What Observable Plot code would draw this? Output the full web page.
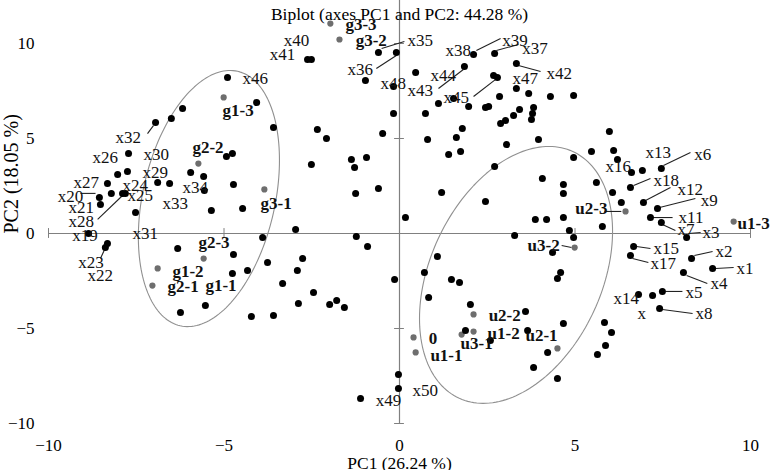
<!DOCTYPE html>
<html><head><meta charset="utf-8">
<script src="https://cdn.jsdelivr.net/npm/d3@7"></script>
<script src="https://cdn.jsdelivr.net/npm/@observablehq/plot@0.6"></script>
<style>html,body{margin:0;padding:0;background:#fff;} svg{display:block}</style>
</head><body><div id="chart"></div>
<script>
const title = "Biplot (axes PC1 and PC2: 44.28 %)";
const xLabel = "PC1 (26.24 %)";
const yLabel = "PC2 (18.05 %)";
const tickValues = [-10, -5, 0, 5, 10];

// black points (variables / observations) as [PC1, PC2]
const blackPoints = [
[-0.97,8.05],[0.46,8.47],[1.85,8.79],[2.68,8.32],[2.79,8.21],[3.33,7.63],[3.68,7.37],[2.85,7.21],[4.30,7.21],[4.96,7.26],
[1.54,7.11],[1.11,6.84],[1.97,6.68],[2.45,6.63],[2.54,6.68],[-0.17,6.32],[0.74,6.32],[3.82,6.63],[3.79,6.32],[3.76,6.00],
[3.42,6.53],[3.25,6.21],[3.02,5.95],[2.88,5.79],[1.79,5.53],[1.62,5.05],[0.80,4.95],[-0.48,5.26],[3.96,4.95],[3.05,4.68],
[1.40,4.16],[1.74,4.32],[5.98,5.37],[5.47,4.32],[6.10,4.37],[4.96,4.00],[6.21,3.89],[6.61,3.21],[6.92,3.32],
[4.07,2.89],[4.67,2.58],[4.67,2.11],[5.61,2.68],[6.07,2.16],[6.32,1.63],[3.87,0.74],[4.19,0.74],[4.67,0.84],[5.78,0.37],
[4.84,0.16],[4.96,-0.21],[4.36,-1.00],[4.59,-2.05],[4.50,-2.37],[2.71,3.53],[1.20,2.16],[2.45,1.68],[0.17,0.84],[3.28,-0.11],
[1.08,-1.21],[0.71,-2.05],[1.48,-2.42],[1.71,-2.58],[0.83,-3.37],[2.02,-3.74],[3.59,-4.11],[4.67,-4.74],[5.84,-4.68],[6.04,-5.21],
[5.87,-5.89],[5.64,-6.37],[4.22,-6.26],[3.82,-7.05],[4.50,-7.63],[1.88,-5.11],[2.59,-5.63],[3.65,-5.11],[-0.14,-2.42],
[-1.23,-0.16],[-0.91,-0.68],[-2.51,3.63],[-1.37,3.89],[-1.28,3.47],[-0.94,4.00],[-1.25,2.11],[-0.60,2.37],[-2.34,5.47],[-2.08,5.00],
[-3.59,5.58],[-4.07,6.89],[-6.18,6.58],[-6.50,6.05],[-4.93,4.05],[-4.76,4.21],[-8.03,3.11],[-7.75,3.26],[-5.95,3.21],[-5.58,3.00],
[-6.55,2.63],[-5.56,2.26],[-4.73,2.58],[-8.21,2.11],[-5.36,1.21],[-4.47,1.32],[-7.52,1.11],[-2.96,0.21],[-3.90,-0.21],[-6.32,-0.79],
[-4.73,-1.11],[-3.76,-1.53],[-2.76,-1.32],[-2.91,-1.95],[-4.33,-1.95],[-4.76,-2.11],[-3.33,-2.63],[-2.45,-3.11],[-2.88,-3.68],[-6.24,-4.16],
[-5.53,-3.79],[-4.22,-4.37],[-3.59,-4.32],[-1.99,-3.74],[-1.79,-3.53],[-1.57,-3.89],[-0.03,-7.42],
[-2.62,9.16],[-2.51,9.16],[-0.60,9.53],[-0.09,9.53],[-0.17,7.74],[2.11,9.42],[2.71,9.47],[3.33,8.95],[-4.90,8.21],[-6.95,5.84],
[-7.72,4.21],[-6.89,2.68],[-8.32,2.63],[-8.55,1.89],[-8.52,1.53],[-7.89,2.11],[-7.81,2.11],[-8.86,0],[-8.32,-0.53],[-8.38,-0.74],
[-1.11,-8.68],[-0.03,-8.16],[7.46,3.42],[6.58,2.42],[6.95,1.63],[7.35,1.32],[7.15,0.84],[7.46,0.58],[8.18,-0.21],[6.67,-0.68],
[6.58,-1.16],[8.32,-1.32],[8.92,-1.84],[8.09,-2.05],[6.81,-3.21],[7.21,-3.26],[7.49,-3.05],[7.41,-3.95]
];

// grey points (treatment groups)
const groupNames = ["g3-3","g3-2","g1-3","g2-2","g3-1","g2-3","g1-2","g2-1","u2-3","u1-3","u3-2","u2-2","0","u1-1","u3-1","u1-2","u2-1"];
const groupX = [-1.97,-1.71,-5.01,-5.73,-3.85,-5.58,-6.89,-7.04,6.44,9.52,4.99,2.11,0.40,0.46,1.77,2.11,4.50];
const groupY = [11.05,10.21,7.16,3.68,2.32,-1.32,-1.84,-2.74,1.16,0.63,-0.74,-4.26,-5.47,-6.26,-5.32,-5.16,-6.05];

// variable labels (left edge position)
const varLabels = ["x40","x41","x35","x36","x48","x38","x39","x37","x42","x44","x43","x45","x47","x46","x32","x26","x30","x29","x27","x24","x34","x20","x25","x33","x21","x28","x19","x31","x23","x22","x49","x50","x13","x6","x16","x18","x12","x9","x11","x7","x3","x15","x17","x2","x1","x4","x14","x5","x","x8"];
const varLabelX = [-3.30,-3.70,0.23,-1.48,-0.54,1.31,2.93,3.50,4.19,0.88,0.23,1.25,3.22,-4.47,-8.09,-8.75,-7.29,-7.32,-9.29,-7.89,-6.18,-9.74,-7.75,-6.75,-9.43,-9.43,-9.32,-7.61,-9.15,-8.89,-0.68,0.37,7.01,8.40,5.87,7.24,7.92,8.58,7.95,7.92,8.63,7.24,7.15,9.00,9.60,8.86,6.10,8.15,6.78,8.43];
const varLabelY = [10.16,9.42,10.16,8.63,7.89,9.63,10.16,9.74,8.42,8.32,7.53,7.16,8.16,8.16,5.05,4.00,4.16,3.21,2.68,2.53,2.42,1.95,2.00,1.58,1.37,0.63,-0.11,0,-1.53,-2.21,-8.79,-8.26,4.26,4.16,3.53,2.79,2.32,1.74,0.84,0.21,0.05,-0.79,-1.58,-0.95,-1.84,-2.63,-3.42,-3.11,-4.21,-4.21];

// group labels (bold)
const groupLabels = ["g3-3","g3-2","g1-3","g2-2","g3-1","g2-3","g1-2","g2-1","g1-1","0","u1-1","u3-1","u1-2","u2-2","u2-1","u2-3","u3-2","u1-3"];
const groupLabelX = [-1.54,-1.25,-5.04,-5.90,-3.96,-5.73,-6.47,-6.61,-5.53,0.83,0.88,1.74,2.51,2.54,3.59,5.01,3.65,9.63];
const groupLabelY = [11.0,10.16,6.47,4.53,1.58,-0.47,-2.00,-2.79,-2.74,-5.53,-6.42,-5.79,-5.26,-4.32,-5.37,1.32,-0.63,0.53];

// leader lines [x1, y1, x2, y2]
const leaders = [
[-0.51,9.74,0.14,10.11],[-0.09,9.37,-0.66,8.68],[2.19,9.63,2.88,10.26],[2.76,9.63,3.39,9.95],[3.39,8.84,4.02,8.53],
[1.82,8.63,1.11,7.63],[2.74,8.11,2.11,7.21],[-7.18,5.26,-7.01,5.68],[-9.09,2.11,-8.66,2.11],[-8.60,0.74,-7.89,2.00],
[-8.52,-1.32,-8.35,-0.63],[7.52,3.58,8.29,4.26],[6.67,2.53,7.15,2.89],[7.01,1.74,7.72,2.42],[7.41,1.37,8.43,1.84],
[7.21,0.84,7.78,0.84],[7.49,0.47,7.86,0.16],[8.23,0,8.58,0.05],[5.84,1.16,6.32,1.16],[4.62,-0.63,4.90,-0.74],
[6.75,-0.68,7.15,-0.79],[6.64,-1.32,7.09,-1.53],[8.40,-1.16,8.92,-0.95],[9.00,-1.84,9.52,-1.79],[8.18,-2.21,8.77,-2.63],
[7.58,-3.05,8.06,-3.05],[7.49,-4.00,8.35,-4.21]
];

// confidence ellipses: centre, half-width, half-height, coupling
const ellipseCx = [-5.43, 3.32];
const ellipseCy = [1.84, -2.18];
const ellipseHw = [2.01, 2.75];
const ellipseHh = [6.74, 6.76];
const ellipseCos = [0.30, 0.34];

const ellipsePts = [];
ellipseCx.forEach((cx, i) => {
  const phi = Math.acos(ellipseCos[i]);
  for (let k = 0; k <= 180; k++) {
    const t = (k / 180) * 2 * Math.PI;
    ellipsePts.push({e: i, x: cx + ellipseHw[i] * Math.cos(t), y: ellipseCy[i] + ellipseHh[i] * Math.cos(t - phi)});
  }
});

const groups = groupNames.map((n, i) => ({name: n, x: groupX[i], y: groupY[i]}));
const vlabels = varLabels.map((t, i) => ({t, x: varLabelX[i], y: varLabelY[i]}));
const glabels = groupLabels.map((t, i) => ({t, x: groupLabelX[i], y: groupLabelY[i]}));
const axisTicks = tickValues.filter(v => v !== 0);

const font = "Liberation Serif, Times New Roman, serif";
const fs = 17;
const chart = Plot.plot({
  width: 780, height: 470,
  marginLeft: 48, marginRight: 30, marginTop: 43, marginBottom: 47,
  x: {domain: [-10, 10]},
  y: {domain: [-10, 10]},
  style: {fontFamily: font, fontSize: fs + "px", background: "white", color: "black", overflow: "visible"},
  marks: [
    Plot.axisX({ticks: tickValues, tickSize: 0, tickPadding: 15, label: null, fontSize: fs}),
    Plot.axisY({ticks: tickValues, tickSize: 0, tickPadding: 14, label: null, fontSize: fs}),
    Plot.ruleY([0], {x1: -10, x2: 10, stroke: "#808080", strokeWidth: 1.2}),
    Plot.ruleX([0], {y1: -10, y2: 12.4, stroke: "#808080", strokeWidth: 1.2}),
    Plot.ruleX(axisTicks, {y1: -0.26, y2: 0.26, stroke: "#808080"}),
    Plot.ruleY(tickValues, {x1: -0.14, x2: 0.14, stroke: "#808080"}),
    Plot.line(ellipsePts, {x: "x", y: "y", z: "e", stroke: "#909090", strokeWidth: 1.1}),
    Plot.link(leaders, {x1: d => d[0], y1: d => d[1], x2: d => d[2], y2: d => d[3], stroke: "#222", strokeWidth: 1.1}),
    Plot.dot(groups, {x: "x", y: "y", r: 3.1, fill: "#6e6e6e", stroke: "none"}),
    Plot.dot(blackPoints, {x: d => d[0], y: d => d[1], r: 3.5, fill: "black", stroke: "none"}),
    Plot.text(vlabels, {x: "x", y: "y", text: "t", textAnchor: "start", fontSize: fs, fill: "#111"}),
    Plot.text(glabels, {x: "x", y: "y", text: "t", textAnchor: "start", fontSize: fs, fontWeight: "bold", fill: "#111"}),
    Plot.text([title], {frameAnchor: "top", dy: -36, text: d => d, fontSize: 17.5}),
    Plot.text([xLabel], {frameAnchor: "bottom", dy: 45, text: d => d, fontSize: 17.5}),
    Plot.text([yLabel], {frameAnchor: "left", dx: -37, rotate: -90, text: d => d, fontSize: 20})
  ]
});
document.getElementById("chart").appendChild(chart);
</script>
</body></html>
